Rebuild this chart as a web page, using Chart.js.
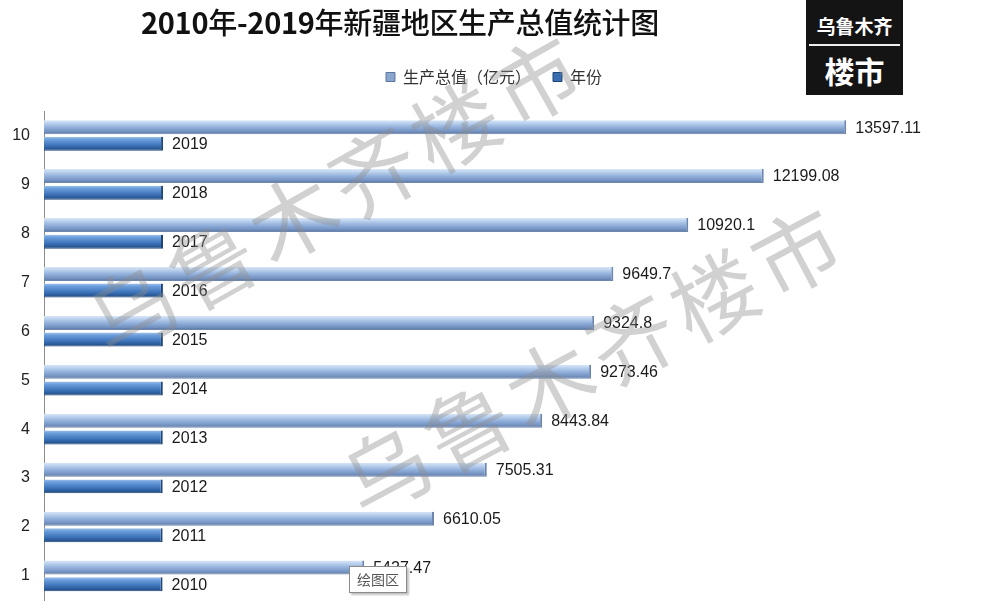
<!DOCTYPE html>
<html>
<head>
<meta charset="utf-8">
<script src="https://cdn.jsdelivr.net/npm/chart.js@4.4.1/dist/chart.umd.min.js"></script>
<style>
  html, body { margin: 0; padding: 0; background: #fff; }
  #wrap { position: relative; width: 998px; height: 616px; overflow: hidden; }
  #c { position: absolute; left: 0; top: 0; }
  #title { position: absolute; left: 100px; width: 600px; top: 0px; text-align: center;
    font-family: "Noto Sans CJK SC", sans-serif; font-size: 29px; font-weight: 500; color: #111; letter-spacing: -0.3px; }
  #title b { font-weight: 700; }
  #logo { position: absolute; left: 806px; top: 0; width: 97px; height: 95px; background: #141414;
    font-family: "Noto Sans CJK SC", sans-serif; color: #fff; text-align: center; }
  #logo .a { position: absolute; left: 0; width: 97px; top: 14px; font-size: 19px; font-weight: 700; line-height: 24px; }
  #logo .line { position: absolute; left: 3px; width: 91px; top: 44px; height: 2px; background: #eee; }
  #logo .b { position: absolute; left: 0; width: 97px; top: 51px; font-size: 30px; font-weight: 700; line-height: 38px; }
  .wm { position: absolute; font-family: "Noto Sans CJK SC", sans-serif; font-weight: 400; font-size: 86px;
    color: rgba(140,140,140,0.40); letter-spacing: 7px; white-space: nowrap; transform-origin: 0 50%;
    pointer-events: none; line-height: 90px; }
  #tip { position: absolute; left: 349px; top: 566px; width: 56px; height: 25px; background: #fff;
    border: 1px solid #8a8a8a; box-shadow: 2px 2px 2px rgba(0,0,0,0.25);
    font-family: "Noto Sans CJK SC", sans-serif; font-size: 14px; color: #555; text-align: center; line-height: 25px; }
</style>
</head>
<body>
<div id="wrap">
  <canvas id="c" width="998" height="616"></canvas>
  <div id="title"><b>2010</b>年<b>-2019</b>年新疆地区生产总值统计图</div>
  <div id="logo"><div class="a">乌鲁木齐</div><div class="line"></div><div class="b">楼市</div></div>
  <div class="wm" style="left:92px; top:282px; transform: rotate(-29.5deg);">乌鲁木齐楼市</div>
  <div class="wm" style="left:346px; top:442px; transform: rotate(-28deg);">乌鲁木齐楼市</div>
  <div id="tip">绘图区</div>
</div>
<script>
const categories = ['1', '2', '3', '4', '5', '6', '7', '8', '9', '10'];
const gdpValues = [5427.47, 6610.05, 7505.31, 8443.84, 9273.46, 9324.8, 9649.7, 10920.1, 12199.08, 13597.11];
const yearValues = [2010, 2011, 2012, 2013, 2014, 2015, 2016, 2017, 2018, 2019];
const seriesNames = ['生产总值（亿元）', '年份'];

const CP = 0.68, BP = 0.84;

function barGradient(stops, fallback, dsIndex) {
  return function (ctx) {
    const chart = ctx.chart;
    const ys = chart.scales && chart.scales.y;
    if (ctx.type !== 'data' || !ys || !chart.chartArea) return fallback;
    const c = ys.getPixelForValue(ctx.dataIndex);
    const step = Math.abs(ys.getPixelForValue(1) - ys.getPixelForValue(0));
    const half = step * CP / 2;
    const t = half * BP;
    const center = dsIndex === 0 ? c - half / 2 : c + half / 2;
    const g = chart.ctx.createLinearGradient(0, center - t / 2, 0, center + t / 2);
    stops.forEach(s => g.addColorStop(s[0], s[1]));
    return g;
  };
}

const gdpStops = [[0, '#d9e7f7'], [0.2, '#bcd2ee'], [0.5, '#93b1dc'], [0.82, '#7391c0'], [1, '#566f98']];
const yearStops = [[0, '#9cc0ea'], [0.2, '#6b9ddb'], [0.6, '#3f75bb'], [0.9, '#25538f'], [1, '#1a3f6e']];

const valueLabels = {
  id: 'valueLabels',
  afterDatasetsDraw(chart) {
    const ctx = chart.ctx;
    ctx.save();
    ctx.font = '16px "Liberation Sans", sans-serif';
    ctx.fillStyle = '#1a1a1a';
    ctx.textAlign = 'left';
    ctx.textBaseline = 'middle';
    chart.data.datasets.forEach((ds, di) => {
      const meta = chart.getDatasetMeta(di);
      meta.data.forEach((el, i) => {
        ctx.fillText(String(ds.data[i]), el.x + 9, el.y + 1);
      });
    });
    ctx.restore();
  }
};

const legendSpace = {
  id: 'legendSpace',
  beforeInit(chart) {
    const origFit = chart.legend.fit;
    chart.legend.fit = function () {
      origFit.bind(chart.legend)();
      this.height += 16;
    };
  }
};

const legendColors = ['#8aa6cf', '#3a6db0'];
const legendBorders = ['#5d769c', '#1f4677'];

new Chart(document.getElementById('c'), {
  type: 'bar',
  data: {
    labels: categories,
    datasets: [
      {
        label: seriesNames[0],
        data: gdpValues,
        backgroundColor: barGradient(gdpStops, '#8aa6cf', 0),
        borderColor: '#6d86ad',
        borderWidth: { top: 0, bottom: 1, left: 0, right: 2 },
        borderSkipped: 'left',
        categoryPercentage: CP,
        barPercentage: BP
      },
      {
        label: seriesNames[1],
        data: yearValues,
        backgroundColor: barGradient(yearStops, '#3a6db0', 1),
        borderColor: '#1f4677',
        borderWidth: { top: 0, bottom: 1, left: 0, right: 2 },
        borderSkipped: 'left',
        categoryPercentage: CP,
        barPercentage: BP
      }
    ]
  },
  options: {
    indexAxis: 'y',
    responsive: false,
    animation: false,
    layout: { padding: { top: 47, left: 0, right: 10, bottom: 4 } },
    scales: {
      x: { display: false, min: 0, max: 16000 },
      y: {
        reverse: true,
        grid: { display: false },
        border: { display: true, color: '#8c8c8c', width: 1 },
        ticks: { color: '#222', font: { size: 16, family: '"Liberation Sans", sans-serif' }, padding: 6 },
        afterFit(scale) { scale.width = 44; }
      }
    },
    plugins: {
      legend: {
        position: 'top',
        align: 'center',
        labels: {
          boxWidth: 9, boxHeight: 9, padding: 22, color: '#333',
          font: { size: 16, family: '"Noto Sans CJK SC", sans-serif' },
          generateLabels(chart) {
            return chart.data.datasets.map((ds, i) => ({
              text: ds.label,
              fillStyle: legendColors[i],
              strokeStyle: legendBorders[i],
              lineWidth: 1,
              hidden: false,
              datasetIndex: i,
              fontColor: '#333'
            }));
          }
        }
      },
      tooltip: { enabled: false },
      title: { display: false }
    }
  },
  plugins: [valueLabels, legendSpace]
});
</script>
</body>
</html>
